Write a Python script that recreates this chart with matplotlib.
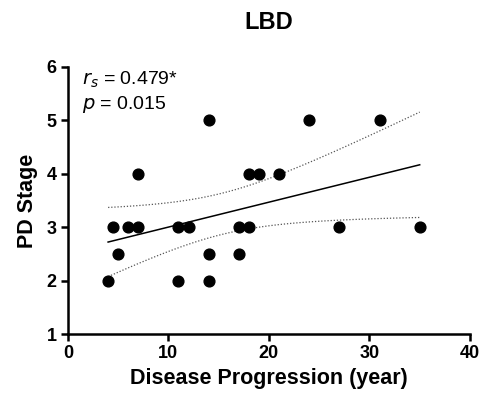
import matplotlib.pyplot as plt
import numpy as np

plt.rcParams['font.family'] = ['Liberation Sans', 'DejaVu Sans']

# disease progression (years) vs PD stage, LBD group
progression = [4, 4.5, 5, 6, 7, 7, 11, 11, 12, 14, 14, 14, 17, 17, 18, 18, 19, 21, 24, 27, 31, 35]
pd_stage = [2, 3, 2.5, 3, 3, 4, 3, 2, 3, 5, 2.5, 2, 3, 2.5, 3, 4, 4, 4, 5, 3, 5, 3]
x_ticks = [0, 10, 20, 30, 40]
y_ticks = [1, 2, 3, 4, 5, 6]


def fit_with_ci(x, y, xs, conf_t=2.086):
    x = np.asarray(x, float)
    y = np.asarray(y, float)
    n = x.size
    slope, intercept = np.polyfit(x, y, 1)
    resid = y - (slope * x + intercept)
    s = np.sqrt((resid ** 2).sum() / (n - 2))
    sxx = ((x - x.mean()) ** 2).sum()
    fit = slope * xs + intercept
    half = conf_t * s * np.sqrt(1 / n + (xs - x.mean()) ** 2 / sxx)
    return fit, fit - half, fit + half


fig = plt.figure(figsize=(4.85, 4.08), dpi=100)
ax = fig.add_axes([0.140, 0.181, 0.829, 0.655])

xs = np.linspace(min(progression), max(progression), 100)
fit, lo, hi = fit_with_ci(progression, pd_stage, xs)
ax.plot(xs, fit, color='black', lw=1.1)
ax.plot(xs, lo, color='#555555', lw=0.9, ls=(0, (1, 1.5)))
ax.plot(xs, hi, color='#555555', lw=0.9, ls=(0, (1, 1.5)))

ax.scatter(progression, pd_stage, s=60, color='black', zorder=3, clip_on=False)

ax.set_xlim(0, 40)
ax.set_ylim(1, 6)
ax.set_xticks(x_ticks)
ax.set_yticks(y_ticks)
ax.tick_params(direction='out', length=5, width=1.8, labelsize=13, pad=3)
for lbl in ax.get_xticklabels() + ax.get_yticklabels():
    lbl.set_fontweight('bold')

for side in ['top', 'right']:
    ax.spines[side].set_visible(False)
for side in ['left', 'bottom']:
    ax.spines[side].set_linewidth(1.8)

ax.set_xlabel('Disease Progression (year)', fontsize=15.5, fontweight='bold', labelpad=4)
ax.set_ylabel('PD Stage', fontsize=15.5, fontweight='bold', labelpad=6)
ax.set_title('LBD', fontsize=17, fontweight='bold', pad=27)

ax.text(0.035, 0.99, '$r_s$ = 0.479*', transform=ax.transAxes, fontsize=14,
        va='top', ha='left')
ax.text(0.035, 0.90, '$p$ = 0.015', transform=ax.transAxes, fontsize=14,
        va='top', ha='left')

fig.savefig('out.png', dpi=100)
